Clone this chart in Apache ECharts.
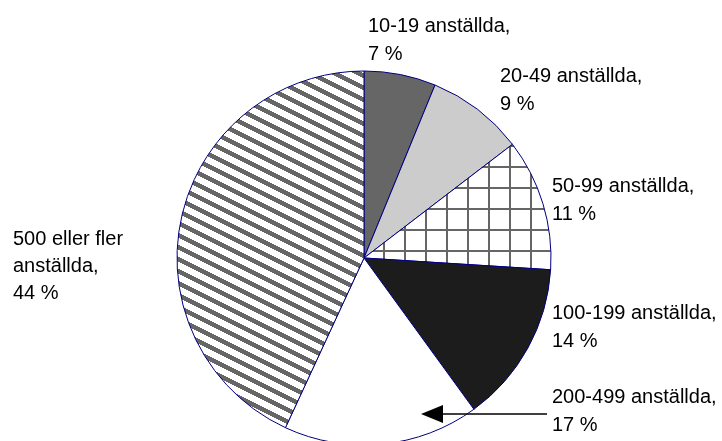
<!DOCTYPE html>
<html>
<head>
<meta charset="utf-8">
<script src="https://cdn.jsdelivr.net/npm/echarts@6/dist/echarts.min.js"></script>
<style>
html,body{margin:0;padding:0;background:#fff;}
#chart{width:722px;height:441px;}
</style>
</head>
<body>
<div id="chart"></div>
<script>
// ---- data ----
const categories = ['10-19 anställda', '20-49 anställda', '50-99 anställda', '100-199 anställda', '200-499 anställda', '500 eller fler anställda'];
const shares = [6.2, 8.4, 11.4, 14.0, 16.9, 43.1];
const pctLabels = ['7 %', '9 %', '11 %', '14 %', '17 %', '44 %'];
const labelTexts = [
  '10-19 anställda,\n7 %',
  '20-49 anställda,\n9 %',
  '50-99 anställda,\n11 %',
  '100-199 anställda,\n14 %',
  '200-499 anställda,\n17 %',
  '500 eller fler\nanställda,\n44 %'
];

// ---- patterns ----
function makeTile(w, h, fn) {
  const c = document.createElement('canvas');
  c.width = w; c.height = h;
  const ctx = c.getContext('2d');
  const img = ctx.createImageData(w, h);
  for (let y = 0; y < h; y++) {
    for (let x = 0; x < w; x++) {
      const v = fn(x, y);
      const i = (y * w + x) * 4;
      img.data[i] = v; img.data[i + 1] = v; img.data[i + 2] = v; img.data[i + 3] = 255;
    }
  }
  ctx.putImageData(img, 0, 0);
  return c;
}
const gridTile = makeTile(21, 21, (x, y) => (x === 5 || x === 6 || y === 19 || y === 20) ? 0x66 : 0xff);
const stripeTile = makeTile(24, 12, (x, y) => ((((y - Math.floor(x / 2)) % 12) + 12) % 12) < 5 ? 0x66 : 0xff);

const fills = [
  '#666666',
  '#cccccc',
  { image: gridTile, repeat: 'repeat' },
  '#1c1c1c',
  '#ffffff',
  { image: stripeTile, repeat: 'repeat' }
];

const labelPos = [
  [368, 26, 28], [500, 76, 28], [552, 186, 28], [552, 313, 28], [552, 397, 28], [13, 239, 27]
];

const font = '"Liberation Sans", Arial, Helvetica, sans-serif';

const graphics = labelTexts.map((t, i) => ({
  type: 'text',
  z: 100,
  x: labelPos[i][0],
  y: labelPos[i][1] - labelPos[i][2] / 2,
  silent: true,
  style: {
    text: t,
    fontSize: 20,
    fontFamily: font,
    fill: '#000',
    lineHeight: labelPos[i][2],
    verticalAlign: 'top',
    align: 'left'
  }
}));
graphics.push({
  type: 'line', silent: true, z: 100,
  shape: { x1: 547, y1: 414, x2: 440, y2: 414 },
  style: { stroke: '#000', lineWidth: 1.5 }
});
graphics.push({
  type: 'polygon', silent: true, z: 100,
  shape: { points: [[421, 414], [443, 405], [443, 423]] },
  style: { fill: '#000' }
});

const chart = echarts.init(document.getElementById('chart'), null, { renderer: 'canvas' });
chart.setOption({
  animation: false,
  backgroundColor: '#ffffff',
  series: [{
    type: 'pie',
    z: 2,
    center: [364, 258],
    radius: 187,
    startAngle: 90,
    clockwise: true,
    avoidLabelOverlap: false,
    label: { show: false },
    labelLine: { show: false },
    emphasis: { disabled: true },
    itemStyle: { borderColor: '#000080', borderWidth: 1 },
    data: categories.map((c, i) => ({
      name: c,
      value: shares[i],
      itemStyle: { color: fills[i] }
    }))
  }],
  graphic: { elements: graphics }
});
</script>
</body>
</html>
